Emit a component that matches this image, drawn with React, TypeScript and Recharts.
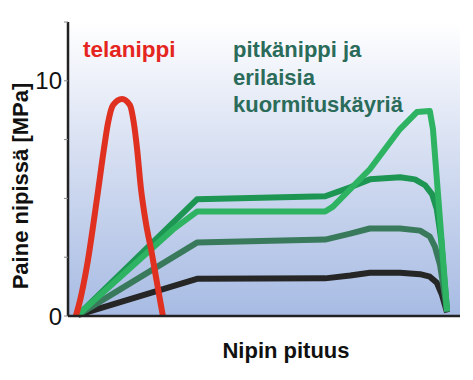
import { LineChart, Line, XAxis, YAxis, CartesianGrid } from "recharts";

// nip position (0-100) and pressure [MPa]
const rollX = [2.0, 3.1, 4.8, 7.4, 9.2, 10.2, 11.5, 13.8, 15.8, 16.8, 17.6, 18.6, 19.9, 21.4, 22.7, 23.7, 24.2];
const rollY = [0, 0.68, 2.09, 5.0, 7.14, 8.2, 8.97, 9.23, 8.97, 8.2, 7.14, 5.43, 3.93, 2.65, 1.41, 0.47, 0];

const blackX = [2.6, 32.9, 65.6, 72.0, 77.0, 84.7, 89.8, 92.3, 94.1, 95.4, 96.7];
const blackY = [0.05, 1.58, 1.6, 1.72, 1.84, 1.84, 1.78, 1.67, 1.41, 0.9, 0.15];

const darkX = [2.6, 32.9, 65.6, 72.0, 77.0, 84.7, 89.8, 92.3, 93.6, 94.9, 95.9, 96.7];
const darkY = [0.05, 3.12, 3.25, 3.5, 3.72, 3.72, 3.63, 3.38, 2.95, 2.18, 1.11, 0.17];

const midX = [2.6, 32.9, 65.6, 72.0, 77.0, 84.7, 88.5, 91.1, 92.9, 94.1, 95.2, 95.9, 96.7];
const midY = [0.05, 4.96, 5.09, 5.47, 5.81, 5.9, 5.81, 5.56, 5.17, 4.53, 3.25, 1.75, 0.26];

const brightX = [2.6, 26.8, 32.9, 65.6, 67.6, 77.0, 84.7, 89.0, 92.3, 93.1, 96.7];
const brightY = [0.05, 3.68, 4.44, 4.44, 4.65, 6.24, 7.95, 8.67, 8.72, 7.95, 0.2];

const yTicks = [0, 2.5, 5, 7.5, 10, 12.5];
const yLabels = ["0", "10"];
const xTicks = [2.5, 24, 45.7, 66.8, 89];

const pts = (xs: number[], ys: number[]) => xs.map((x, i) => ({ x, y: ys[i] }));

const font = "'Liberation Sans', Arial, sans-serif";

export default function App() {
  return (
    <div style={{ position: "absolute", left: 0, top: 0, width: 473, height: 380, fontFamily: font }}>
      <LineChart width={473} height={380} margin={{ top: 22, right: 13, left: 0, bottom: 0 }}>
        <defs>
          <linearGradient id="bgGrad" x1="0" y1="0" x2="0" y2="1">
            <stop offset="0%" stopColor="#ffffff" />
            <stop offset="40%" stopColor="#dae2f3" />
            <stop offset="100%" stopColor="#a7bbe3" />
          </linearGradient>
        </defs>
        <CartesianGrid horizontal={false} vertical={false} fill="url(#bgGrad)" fillOpacity={1} />
        <XAxis
          dataKey="x"
          type="number"
          domain={[0, 100]}
          ticks={xTicks}
          tick={false}
          tickSize={4}
          height={64}
          axisLine={{ stroke: "#222", strokeWidth: 2.5 }}
          tickLine={{ stroke: "#777" }}
          allowDuplicatedCategory={false}
        />
        <XAxis xAxisId="top" orientation="top" type="number" domain={[0, 100]} height={0} tick={false} tickLine={false} axisLine={{ stroke: "#444", strokeWidth: 1.5 }} />
        <YAxis
          type="number"
          domain={[0, 12.5]}
          ticks={yTicks}
          width={68}
          tickSize={4}
          tickMargin={2}
          tickFormatter={(v: number) => (yLabels.includes(String(v)) ? String(v) : "")}
          tick={{ fill: "#111", fontSize: 24, fontFamily: font }}
          axisLine={{ stroke: "#222", strokeWidth: 2.5 }}
          tickLine={{ stroke: "#888" }}
        />
        <YAxis yAxisId="right" orientation="right" domain={[0, 12.5]} width={0} tick={false} tickLine={false} axisLine={{ stroke: "#444", strokeWidth: 1.5 }} />
        <Line data={pts(blackX, blackY)} dataKey="y" type="linear" stroke="#262626" strokeWidth={6} strokeLinejoin="round" dot={false} isAnimationActive={false} />
        <Line data={pts(darkX, darkY)} dataKey="y" type="linear" stroke="#3a7a5c" strokeWidth={6} strokeLinejoin="round" dot={false} isAnimationActive={false} />
        <Line data={pts(midX, midY)} dataKey="y" type="linear" stroke="#1c9652" strokeWidth={6} strokeLinejoin="round" dot={false} isAnimationActive={false} />
        <Line data={pts(brightX, brightY)} dataKey="y" type="linear" stroke="#2db362" strokeWidth={6} strokeLinejoin="round" dot={false} isAnimationActive={false} />
        <Line data={pts(rollX, rollY)} dataKey="y" type="monotone" stroke="#df3020" strokeWidth={6} dot={false} isAnimationActive={false} />
      </LineChart>
      <svg width={473} height={380} style={{ position: "absolute", left: 0, top: 0, pointerEvents: "none" }}>
        <text x={83} y={57} fill="#e52520" fontSize={22.5} fontWeight="bold" fontFamily={font}>telanippi</text>
        <text fill="#2a6b5a" fontSize={22} fontWeight="bold" fontFamily={font}>
          <tspan x={233} y={57}>pitkänippi ja</tspan>
          <tspan x={233} y={85}>erilaisia</tspan>
          <tspan x={233} y={112}>kuormituskäyriä</tspan>
        </text>
        <text transform="translate(28,186) rotate(-90)" textAnchor="middle" fill="#111" fontSize={22} fontWeight="bold" fontFamily={font}>Paine nipissä [MPa]</text>
        <text x={286} y={358} textAnchor="middle" fill="#111" fontSize={22} fontWeight="bold" fontFamily={font}>Nipin pituus</text>
      </svg>
    </div>
  );
}
